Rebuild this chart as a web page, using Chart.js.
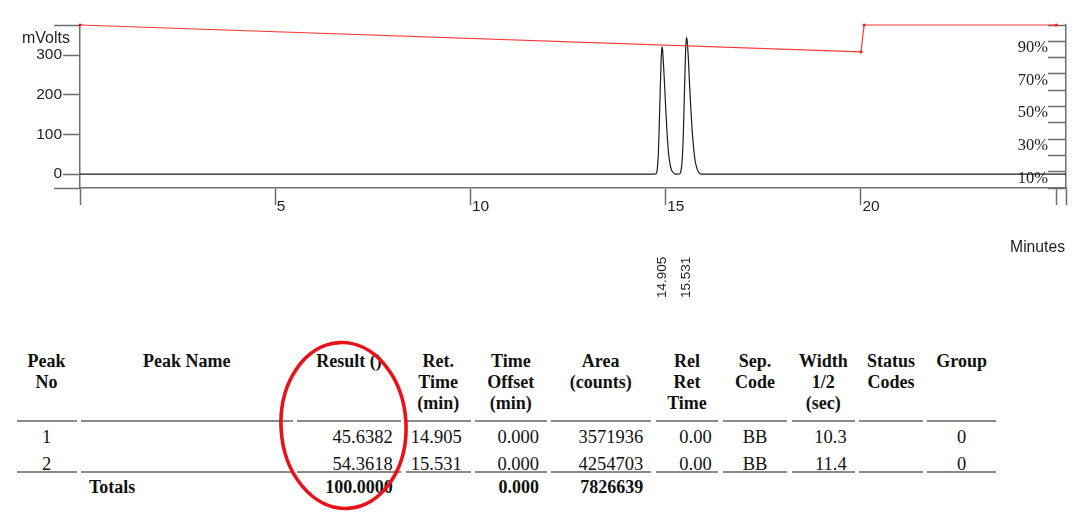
<!DOCTYPE html>
<html>
<head>
<meta charset="utf-8">
<script src="https://cdn.jsdelivr.net/npm/chart.js@4/dist/chart.umd.min.js"></script>
<style>
  html, body { margin: 0; padding: 0; background: #fff; }
  #page { position: relative; width: 1080px; height: 523px; overflow: hidden; background: #fff; }
  #chartCanvas { position: absolute; left: 0; top: 0; }
  .sans { position: absolute; font-family: "Liberation Sans", Arial, sans-serif; color: #1e1e1e; white-space: nowrap; }
  .cell { position: absolute; font-family: "Liberation Serif", "Times New Roman", serif; color: #111; white-space: nowrap; }
  .hdr { font-weight: bold; font-size: 18px; line-height: 20.8px; text-align: center; }
  .dat { font-size: 18.5px; line-height: 22px; }
  .tot { font-weight: bold; font-size: 18px; line-height: 22px; }
  .rule { position: absolute; height: 2px; background: #8a8a8a; }
  #ring { position: absolute; left: 0; top: 0; pointer-events: none; }
</style>
</head>
<body>
<div id="page">
  <canvas id="chartCanvas" width="1080" height="320"></canvas>
  <div class="sans" style="left:22px; top:28.5px; font-size:16px; line-height:18px;">mVolts</div>
  <div class="sans" style="right:15px; top:238px; font-size:15.7px; line-height:18px;">Minutes</div>
  <div id="table"></div>
  <svg id="ring" width="1080" height="523">
    <ellipse cx="343.5" cy="425.5" rx="62.5" ry="83" fill="none" stroke="#e8121b" stroke-width="3.6" transform="rotate(-3 343.5 425.5)"/>
  </svg>
</div>
<script>
// ---------------- data ----------------
// detector trace (minutes, mVolts)
const timeMin = [0, 5, 10, 14.70, 14.75, 14.78, 14.81, 14.83, 14.86, 14.89, 14.905, 14.92, 14.945, 14.97, 15.00, 15.03, 15.07, 15.11, 15.15, 15.20, 15.25,
                 15.30, 15.36, 15.39, 15.42, 15.45, 15.48, 15.51, 15.531, 15.55, 15.58, 15.61, 15.64, 15.67, 15.71, 15.75, 15.80, 15.85, 15.91, 20, 25.25];
const signalMv = [0, 0, 0, 0, 1, 10, 50, 110, 215, 305, 321, 312, 272, 225, 165, 110, 55, 25, 10, 3, 0,
                  0, 1, 8, 35, 100, 210, 315, 345, 335, 290, 225, 170, 120, 70, 35, 14, 4, 0, 0, 0];
// gradient trace (minutes, %)
const gradTime = [0, 20, 20.08, 25];
const gradPct = [100, 83.5, 100, 100];
// peak retention labels
const peakRetTimes = [14.905, 15.531];
const peakRetLabels = ["14.905", "15.531"];
// axes
const X_MIN = 0, X_MAX = 25.25;
const X_PCT_LABELS = 24.79;   // where the % labels end (just left of the right-axis ticks)
const MV_MIN = -35, MV_MAX = 376;
const PCT_MIN = 0, PCT_MAX = 100;
const xTickValues = [0, 5, 10, 15, 20, 25, 25.25];
const xLabelledTicks = [5, 10, 15, 20];
const mvTickValues = [0, 100, 200, 300];
const pctTickValues = [0, 10, 20, 30, 40, 50, 60, 70, 80, 90, 100];
const pctLabelledTicks = [10, 30, 50, 70, 90];

// results table
const tableHeaders = [["Peak", "No"], ["Peak Name"], ["Result ()"], ["Ret.", "Time", "(min)"], ["Time", "Offset", "(min)"],
                      ["Area", "(counts)"], ["Rel", "Ret", "Time"], ["Sep.", "Code"], ["Width", "1/2", "(sec)"], ["Status", "Codes"], ["Group"]];
const peakNos = ["1", "2"];
const peakNames = ["", ""];
const results = ["45.6382", "54.3618"];
const retTimes = ["14.905", "15.531"];
const timeOffsets = ["0.000", "0.000"];
const areas = ["3571936", "4254703"];
const relRetTimes = ["0.00", "0.00"];
const sepCodes = ["BB", "BB"];
const halfWidths = ["10.3", "11.4"];
const statusCodes = ["", ""];
const groups = ["0", "0"];
const totalsRow = ["", "Totals", "100.0000", "", "0.000", "7826639", "", "", "", "", ""];

// ---------------- table layout ----------------
const cols = [
  {l: 16.5, r: 76.5, a: 'center'},
  {l: 81, r: 292.7, a: 'left', p: 8},
  {l: 297.3, r: 400.7, a: 'right', p: 8},
  {l: 405.7, r: 470.7, a: 'right', p: 9},
  {l: 475, r: 546.7, a: 'right', p: 7.7},
  {l: 550.7, r: 650.7, a: 'right', p: 7.4},
  {l: 655.7, r: 718.3, a: 'right', p: 6.6},
  {l: 723.3, r: 786.7, a: 'center'},
  {l: 791.7, r: 855, a: 'right', p: 8.3},
  {l: 859.3, r: 922.7, a: 'center'},
  {l: 927.3, r: 996, a: 'center'}
];
const tbl = document.getElementById('table');
function addCell(cls, text, col, top, align) {
  const d = document.createElement('div');
  d.className = 'cell ' + cls;
  d.textContent = text;
  d.style.top = top + 'px';
  const a = align || col.a;
  if (a === 'center') {
    d.style.left = col.l + 'px';
    d.style.width = (col.r - col.l) + 'px';
    d.style.textAlign = 'center';
  } else if (a === 'right') {
    d.style.right = (1080 - col.r + col.p) + 'px';
    d.style.textAlign = 'right';
  } else {
    d.style.left = (col.l + col.p) + 'px';
  }
  tbl.appendChild(d);
}
tableHeaders.forEach((lines, i) => {
  const d = document.createElement('div');
  d.className = 'cell hdr';
  d.style.left = (cols[i].l - 10) + 'px';
  d.style.width = (cols[i].r - cols[i].l + 20) + 'px';
  d.style.top = '351.3px';
  d.innerHTML = lines.map(s => s.replace(/&/g, '&amp;')).join('<br>');
  tbl.appendChild(d);
});
[420, 471].forEach(y => cols.forEach(c => {
  const r = document.createElement('div');
  r.className = 'rule';
  r.style.left = c.l + 'px';
  r.style.width = (c.r - c.l) + 'px';
  r.style.top = y + 'px';
  tbl.appendChild(r);
}));
const rowTops = [426.3, 452.7];
peakNos.forEach((_, k) => {
  const row = [peakNos[k], peakNames[k], results[k], retTimes[k], timeOffsets[k], areas[k], relRetTimes[k], sepCodes[k], halfWidths[k], statusCodes[k], groups[k]];
  row.forEach((txt, i) => { if (txt) addCell('dat', txt, cols[i], rowTops[k]); });
});
totalsRow.forEach((txt, i) => { if (txt) addCell('tot', txt, cols[i], 475.7); });

// ---------------- chart ----------------
const AX = '#6e6e6e';
const peakLabelPlugin = {
  id: 'peakLabels',
  afterDraw(chart) {
    const ctx = chart.ctx;
    const xs = chart.scales.x;
    ctx.save();
    ctx.font = '13.5px "Liberation Sans", Arial, sans-serif';
    ctx.fillStyle = '#1e1e1e';
    ctx.textAlign = 'left';
    ctx.textBaseline = 'middle';
    peakRetTimes.forEach((rt, i) => {
      const px = xs.getPixelForValue(rt);
      ctx.save();
      ctx.translate(px, 298);
      ctx.rotate(-Math.PI / 2);
      ctx.fillText(peakRetLabels[i], 0, 0);
      ctx.restore();
    });
    ctx.restore();
  }
};

new Chart(document.getElementById('chartCanvas'), {
  type: 'line',
  data: {
    datasets: [
      {
        label: 'Gradient',
        data: gradTime.map((t, i) => ({x: t, y: gradPct[i]})),
        yAxisID: 'yPct',
        borderColor: 'rgba(255,35,35,0.9)',
        borderWidth: 1.2,
        pointRadius: 1.6,
        pointBackgroundColor: '#ff1a1a',
        pointBorderWidth: 0,
        tension: 0,
        clip: false
      },
      {
        label: 'Signal',
        data: timeMin.map((t, i) => ({x: t, y: signalMv[i]})),
        yAxisID: 'y',
        borderColor: '#1c1c1c',
        borderWidth: 1.2,
        pointRadius: 0,
        cubicInterpolationMode: 'monotone',
        clip: false
      }
    ]
  },
  options: {
    responsive: false,
    animation: false,
    layout: {padding: {left: 0, right: 14, top: 25, bottom: 0}},
    plugins: {legend: {display: false}, tooltip: {enabled: false}},
    scales: {
      x: {
        type: 'linear',
        position: 'bottom',
        min: X_MIN, max: X_MAX,
        afterBuildTicks: s => { s.ticks = xTickValues.map(v => ({value: v})); },
        afterFit: s => { s.height = 132; },
        ticks: {
          autoSkip: false, maxRotation: 0, minRotation: 0, align: 'start',
          padding: -8, labelOffset: 1.5,
          font: {family: 'Liberation Sans', size: 15.5}, color: '#1e1e1e',
          callback: v => xLabelledTicks.includes(v) ? String(v) : ''
        },
        grid: {drawOnChartArea: false, drawTicks: true, tickLength: 17, tickColor: AX, tickWidth: 1.5},
        border: {display: true, color: AX, width: 1.5}
      },
      y: {
        type: 'linear',
        position: 'left',
        min: MV_MIN, max: MV_MAX,
        afterBuildTicks: s => { s.ticks = mvTickValues.map(v => ({value: v})); },
        afterFit: s => { s.width = 80; },
        ticks: {autoSkip: false, padding: 1, font: {family: 'Liberation Sans', size: 15.5}, color: '#1e1e1e', callback: v => String(v)},
        grid: {drawOnChartArea: false, drawTicks: true, tickLength: 17, tickColor: AX, tickWidth: 1.5},
        border: {display: true, color: AX, width: 1.5}
      },
      yFrame: {
        type: 'linear',
        position: {x: X_MIN},
        min: MV_MIN, max: MV_MAX,
        afterBuildTicks: s => { s.ticks = [MV_MIN, MV_MAX].map(v => ({value: v})); },
        ticks: {callback: () => ''},
        grid: {drawOnChartArea: false, drawTicks: true, tickLength: 26, tickColor: AX, tickWidth: 1.5},
        border: {display: false}
      },
      yPct: {
        type: 'linear',
        position: {x: X_MAX},
        min: PCT_MIN, max: PCT_MAX,
        afterBuildTicks: s => { s.ticks = pctTickValues.map(v => ({value: v})); },
        ticks: {autoSkip: false, callback: () => ''},
        grid: {drawOnChartArea: false, drawTicks: true, tickLength: 17, tickColor: AX, tickWidth: 1.5},
        border: {display: true, color: AX, width: 1.5}
      },
      yPctLabels: {
        type: 'linear',
        position: {x: X_PCT_LABELS},
        min: PCT_MIN, max: PCT_MAX,
        afterBuildTicks: s => { s.ticks = pctTickValues.map(v => ({value: v})); },
        ticks: {
          autoSkip: false, labelOffset: 6.5,
          font: {family: 'Liberation Serif', size: 16.5}, color: '#1e1e1e',
          callback: v => pctLabelledTicks.includes(v) ? v + '%' : ''
        },
        grid: {display: false, drawOnChartArea: false, drawTicks: false},
        border: {display: false}
      }
    }
  },
  plugins: [peakLabelPlugin]
});
</script>
</body>
</html>
